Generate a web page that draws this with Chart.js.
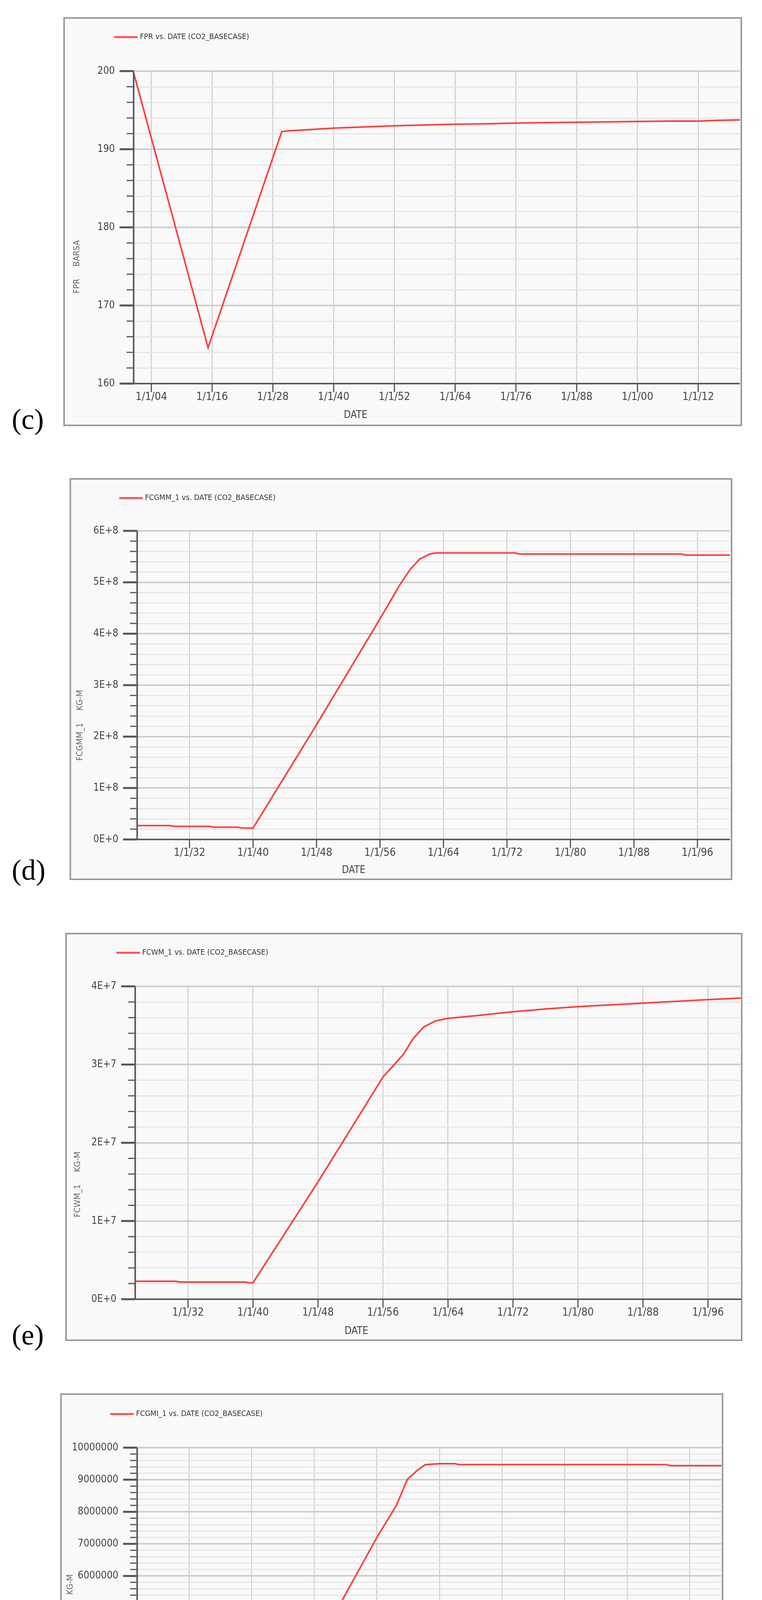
<!DOCTYPE html>
<html><head><meta charset="utf-8">
<script src="https://cdn.jsdelivr.net/npm/chart.js@4"></script>
<style>
body{margin:0;background:#fff;width:1950px;height:4686px;position:relative;overflow:hidden}
.box{position:absolute;border:4px solid #9a9a9a;background:#f9f9f9;box-sizing:border-box}
.box canvas{position:absolute;left:-4px;top:-4px}
.lab{position:absolute;font-family:'Liberation Serif','DejaVu Serif',serif;font-size:74px;color:#000;line-height:1}
</style></head><body>
<script>
// ---- data ----
const cYears=[2000.5,2015.2,2029.75,2031,2035,2040,2046,2052,2058,2064,2070,2076,2082,2088,2094,2100,2106,2112,2116,2120.2];
const cVals=[199.8,164.6,192.25,192.35,192.5,192.7,192.85,193.0,193.1,193.2,193.25,193.35,193.4,193.45,193.5,193.55,193.6,193.6,193.7,193.75];
const cTicks=[2004,2016,2028,2040,2052,2064,2076,2088,2100,2112];

const dYears=[2025.4,2029.5,2030,2034.5,2035,2038,2038.5,2040,2048,2056,2058.5,2059.8,2061,2062.3,2063,2073,2073.5,2094,2094.5,2100.1];
const dVals=[27e6,27e6,25.5e6,25.5e6,24e6,24e6,22.5e6,22e6,223e6,429e6,495e6,525e6,545e6,555e6,557e6,557e6,555e6,555e6,553e6,553e6];

const eYears=[2025.5,2030.5,2031,2039,2039.5,2040,2048,2056,2058.5,2059.7,2061,2062.5,2064,2068,2072,2076,2080,2088,2096,2100.1];
const eVals=[2.3e6,2.3e6,2.2e6,2.2e6,2.1e6,2.1e6,15e6,28.4e6,31.3e6,33.3e6,34.8e6,35.6e6,35.9e6,36.3e6,36.75e6,37.1e6,37.4e6,37.85e6,38.3e6,38.5e6];

const fYears=[2025.35,2029,2029.5,2034.5,2035,2039.5,2040,2048,2056,2058.5,2059.9,2061.2,2062.2,2064,2066,2066.5,2093,2093.5,2100.05];
const fVals=[440000,440000,410000,410000,380000,380000,350000,3670000,7200000,8200000,9010000,9300000,9470000,9500000,9500000,9470000,9470000,9440000,9440000];
const dTicks=[2032,2040,2048,2056,2064,2072,2080,2088,2096];

const legends=['FPR vs. DATE (CO2_BASECASE)','FCGMM_1 vs. DATE (CO2_BASECASE)','FCWM_1 vs. DATE (CO2_BASECASE)','FCGMI_1 vs. DATE (CO2_BASECASE)'];
const yTitles=['FPR     BARSA','FCGMM_1     KG-M','FCWM_1     KG-M','FCGMI_1     KG-M'];
const panelLabels=['(c)','(d)','(e)','(f)'];

// ---- layout ----
const panels=[
 {box:[162,44,1899,1091],plot:[342,182,1893,982],xr:[2000.5,2120.2],xt:cTicks,yr:[160,200],ys:2,ym:10,fmt:v=>String(v),
  years:cYears,vals:cVals,leg:[292,95],yt:[197,683],dt:[910,1063],lab:[30,1036]},
 {box:[178,1224,1874,2253],plot:[351,1359,1868,2149],xr:[2025.4,2100.1],xt:dTicks,yr:[0,6e8],ys:2e7,ym:1e8,fmt:v=>Math.round(v/1e8)+(v===0?'E+0':'E+8'),
  years:dYears,vals:dVals,leg:[305,1275],yt:[205,1857],dt:[905,2228],lab:[30,2190]},
 {box:[167,2388,1900,3433],plot:[346,2525,1897,3326],xr:[2025.5,2100.1],xt:dTicks,yr:[0,4e7],ys:2e6,ym:1e7,fmt:v=>Math.round(v/1e7)+(v===0?'E+0':'E+7'),
  years:eYears,vals:eVals,leg:[298,2439],yt:[199,3032],dt:[912,3408],lab:[30,3380]},
 {box:[154,3567,1851,4638],plot:[351,3706,1846,4527],xr:[2025.35,2100.05],xt:dTicks,yr:[0,1e7],ys:2e5,ym:1e6,fmt:v=>String(v),
  years:fYears,vals:fVals,leg:[282,3620],yt:[180,4115],dt:[900,4612],lab:[30,4585]}
];
const FONT="'Liberation Sans Narrow','DejaVu Sans Condensed','Liberation Sans',sans-serif";
const isMajor=(v,m)=>Math.abs(v/m-Math.round(v/m))<1e-6;

panels.forEach((p,i)=>{
  const [bl,bt,br,bb]=p.box,[pl,pt,pr,pb]=p.plot;
  const div=document.createElement('div');div.className='box';
  div.style.cssText=`left:${bl}px;top:${bt}px;width:${br-bl}px;height:${bb-bt}px`;
  document.body.appendChild(div);
  const cv=document.createElement('canvas');
  cv.width=br-bl;cv.height=bb-bt;cv.style.width=cv.width+'px';cv.style.height=cv.height+'px';
  div.appendChild(cv);
  const lab=document.createElement('div');lab.className='lab';lab.textContent=panelLabels[i];
  lab.style.left=p.lab[0]+'px';lab.style.top=p.lab[1]+'px';document.body.appendChild(lab);

  const deco={id:'deco',
   afterDraw(ch){
    const c=ch.ctx,x=ch.scales.x,y=ch.scales.y,a=ch.chartArea;
    c.save();
    c.strokeStyle='#ff5050';c.lineWidth=5;c.beginPath();
    c.moveTo(p.leg[0]-bl,p.leg[1]-bt);c.lineTo(p.leg[0]-bl+60,p.leg[1]-bt);c.stroke();
    c.fillStyle='#333';c.font='20px '+FONT;c.textBaseline='middle';c.textAlign='left';
    c.fillText(legends[i],p.leg[0]-bl+66,p.leg[1]-bt);
    c.strokeStyle='#555';
    y.ticks.forEach(t=>{const py=y.getPixelForValue(t.value);const maj=isMajor(t.value,p.ym);
      c.lineWidth=maj?5:3;c.beginPath();c.moveTo(a.left-(maj?36:18),py);c.lineTo(a.left,py);c.stroke();});
    c.lineWidth=3;
    x.ticks.forEach(t=>{const px=x.getPixelForValue(t.value);c.beginPath();c.moveTo(px,a.bottom);c.lineTo(px,a.bottom+22);c.stroke();});
    c.strokeStyle='#5a5a5a';c.lineWidth=4;c.beginPath();
    c.moveTo(a.left,a.top);c.lineTo(a.left,a.bottom);c.lineTo(a.right,a.bottom);c.stroke();
    c.fillStyle='#444';c.font='26px '+FONT;c.textAlign='center';
    c.fillText('DATE',p.dt[0]-bl,p.dt[1]-bt);
    c.translate(p.yt[0]-bl,p.yt[1]-bt);c.rotate(-Math.PI/2);c.font='22px '+FONT;c.fillStyle='#666';
    c.fillText(yTitles[i],0,0);
    c.restore();
   }};

  new Chart(cv,{type:'line',
   data:{datasets:[{data:p.years.map((yr,k)=>({x:yr,y:p.vals[k]})),borderColor:'#ff3c3c',borderWidth:4,pointRadius:0,tension:0,fill:false}]},
   options:{responsive:false,animation:false,devicePixelRatio:1,
    layout:{padding:{top:pt-bt,right:br-pr,left:0,bottom:0}},
    plugins:{legend:{display:false},tooltip:{enabled:false}},
    scales:{
     x:{type:'linear',min:p.xr[0],max:p.xr[1],
       afterBuildTicks:s=>{s.ticks=p.xt.map(v=>({value:v}));},
       afterFit:s=>{s.height=bb-pb;},
       ticks:{autoSkip:false,maxRotation:0,padding:18,color:'#444',font:{family:FONT,size:28},
         callback:v=>'1/1/'+String(v%100).padStart(2,'0')},
       grid:{drawTicks:false,color:'#c4c4c4',lineWidth:2},border:{display:false}},
     y:{type:'linear',min:p.yr[0],max:p.yr[1],
       afterFit:s=>{s.width=pl-bl;},
       ticks:{stepSize:p.ys,autoSkip:false,padding:48,color:'#444',font:{family:FONT,size:26},
         callback:v=>isMajor(v,p.ym)?p.fmt(v):''},
       grid:{drawTicks:false,color:c=>isMajor(c.tick.value,p.ym)?'#cdcdcd':'#e6e6e6',lineWidth:c=>isMajor(c.tick.value,p.ym)?4:3},
       border:{display:false}}
    }},
   plugins:[deco]});
});
</script>
</body></html>
